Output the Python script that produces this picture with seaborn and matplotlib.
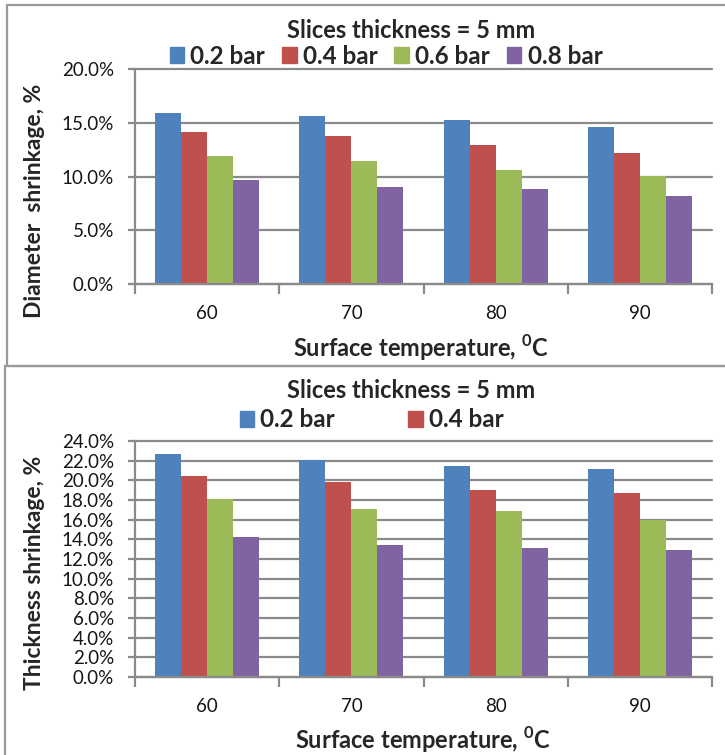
import pandas as pd
import seaborn as sns
import matplotlib.pyplot as plt
from matplotlib.patches import Rectangle
from matplotlib.ticker import FuncFormatter, FixedLocator

# category labels
temps = ['60', '70', '80', '90']
pressures = ['0.2 bar', '0.4 bar', '0.6 bar', '0.8 bar']
colors = ['#4F81BD', '#C0504D', '#9BBB59', '#8064A2']

# diameter shrinkage, % (top chart)
diam_02 = [15.9, 15.6, 15.25, 14.6]
diam_04 = [14.15, 13.75, 12.9, 12.2]
diam_06 = [11.95, 11.4, 10.65, 10.05]
diam_08 = [9.65, 9.0, 8.8, 8.2]

# thickness shrinkage, % (bottom chart)
thick_02 = [22.7, 22.1, 21.5, 21.15]
thick_04 = [20.4, 19.85, 19.0, 18.7]
thick_06 = [18.1, 17.1, 16.9, 15.95]
thick_08 = [14.25, 13.45, 13.1, 12.9]


def long_table(series):
    rows = []
    for p, vals in zip(pressures, series):
        for t, v in zip(temps, vals):
            rows.append({'temp': t, 'pressure': p, 'value': v})
    return pd.DataFrame(rows)


df_diam = long_table([diam_02, diam_04, diam_06, diam_08])
df_thick = long_table([thick_02, thick_04, thick_06, thick_08])

sns.set_style('white')
plt.rcParams['font.family'] = ['Lato', 'DejaVu Sans']

fig = plt.figure(figsize=(7.25, 7.55), dpi=100)
W, H = 725, 755

grey = '#8a8a8a'


def px_axes(left, top, right, bottom):
    return fig.add_axes([left / W, 1 - bottom / H, (right - left) / W, (bottom - top) / H])


def draw_panel(ax, df, ymax, ystep):
    sns.barplot(data=df, x='temp', y='value', hue='pressure', hue_order=pressures,
                palette=colors, width=0.72, saturation=1, ax=ax, legend=False,
                errorbar=None, edgecolor='none')
    ax.set_ylim(0, ymax)
    ax.set_xlim(-0.5, 3.5)
    ax.yaxis.set_major_locator(FixedLocator([i * ystep for i in range(int(ymax / ystep) + 1)]))
    ax.yaxis.set_major_formatter(FuncFormatter(lambda v, pos: '%.1f%%' % v))
    ax.set_axisbelow(True)
    ax.yaxis.grid(True, color=grey, lw=1.6)
    for ln in ax.get_ygridlines():
        ln.set_clip_on(False)
    for s in ['top', 'right']:
        ax.spines[s].set_visible(False)
    for s in ['left', 'bottom']:
        ax.spines[s].set_color(grey)
        ax.spines[s].set_linewidth(1.6)
    ax.tick_params(axis='y', which='major', left=True, length=5, width=1.6, color=grey,
                   pad=10, labelsize=13.5, labelcolor='#151515')
    ax.set_xticks([0, 1, 2, 3])
    ax.set_xticks([-0.5, 0.5, 1.5, 2.5, 3.5], minor=True)
    ax.tick_params(axis='x', which='major', length=0, pad=15, labelsize=13.5, labelcolor='#151515')
    ax.tick_params(axis='x', which='minor', bottom=True, length=7, width=1.6, color=grey)
    ax.set_xlabel('')
    ax.set_ylabel('')


ax1 = px_axes(135, 69, 712, 284)
draw_panel(ax1, df_diam, 20, 5)
ax2 = px_axes(135, 441, 712, 677)
draw_panel(ax2, df_thick, 24, 2)

leg_font = {'weight': 'bold', 'size': 17.5}
handles = [Rectangle((0, 0), 1, 1, color=c) for c in colors]
ax1.legend(handles, pressures, loc='center', bbox_to_anchor=(0.435, 1.06), ncol=4,
           frameon=False, prop=leg_font, handlelength=0.6, handleheight=0.65,
           handletextpad=0.25, columnspacing=0.7, borderaxespad=0)
ax2.legend(handles[:2], pressures[:2], loc='center', bbox_to_anchor=(0.41, 1.09), ncol=2,
           frameon=False, prop=leg_font, handlelength=0.6, handleheight=0.65,
           handletextpad=0.25, columnspacing=3.0, borderaxespad=0)

# titles and axis labels
title_font = {'weight': 'bold', 'size': 17}
xlab_font = {'weight': 'bold', 'size': 17}
ylab_font = {'weight': 'bold', 'size': 16.5}
fig.text(411 / W, 1 - 30 / H, 'Slices thickness = 5 mm', ha='center', va='center', **title_font)
fig.text(411 / W, 1 - 390 / H, 'Slices thickness = 5 mm', ha='center', va='center', **title_font)
fig.text(421 / W, 1 - 348 / H, 'Surface temperature, $^{\\mathregular{0}}$C', ha='center', va='center', **xlab_font)
fig.text(423 / W, 1 - 740 / H, 'Surface temperature, $^{\\mathregular{0}}$C', ha='center', va='center', **xlab_font)
fig.text(35 / W, 1 - 201 / H, 'Diameter  shrinkage, %', rotation=90, ha='center', va='center', **ylab_font)
fig.text(35 / W, 1 - 573 / H, 'Thickness shrinkage, %', rotation=90, ha='center', va='center', **ylab_font)

# panel frames
fig.patches.append(Rectangle((7 / W, 1 - 366 / H), 1, (366 - 5) / H, transform=fig.transFigure,
                             fill=False, ec='#9a9a9a', lw=1.6))
fig.patches.append(Rectangle((5 / W, -0.1), 1, 0.1 + (755 - 366) / H, transform=fig.transFigure,
                             fill=False, ec='#9a9a9a', lw=1.6))

fig.savefig('out.png', dpi=100)
